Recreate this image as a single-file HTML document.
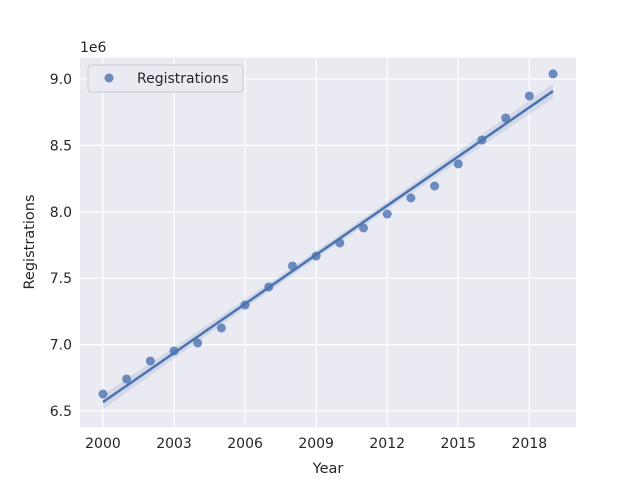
<!DOCTYPE html>
<html><head><meta charset="utf-8"><style>
body{margin:0;background:#fff;}
svg text{font-family:"DejaVu Sans","Liberation Sans",sans-serif;fill:#262626;}
</style></head><body>
<svg id="chart" width="640" height="480" xmlns="http://www.w3.org/2000/svg">
<rect x="0" y="0" width="640" height="480" fill="#fff"/>
<rect x="80" y="57.6" width="496" height="369.6" fill="#eaeaf2"/>
<g id="grid"></g><g id="band"></g><g id="points"></g><g id="line"></g><g id="ticks"></g>
<text x="80" y="52" font-size="14">1e6</text>
<text x="328" y="473" font-size="14.5" text-anchor="middle">Year</text>
<text transform="translate(34,242) rotate(-90)" font-size="14.5" text-anchor="middle">Registrations</text>
<g>
<rect x="88" y="65" width="155" height="27" rx="3" fill="#eaeaf2" stroke="#cccccc" stroke-width="1"/>
<circle cx="109" cy="78" r="4.5" fill="#4c72b0" fill-opacity="0.8"/>
<text x="137" y="83" font-size="14">Registrations</text>
</g>
</svg>
<script>
const years=[2000,2001,2002,2003,2004,2005,2006,2007,2008,2009,2010,2011,2012,2013,2014,2015,2016,2017,2018,2019];
const values=[6.628,6.741,6.876,6.952,7.012,7.125,7.298,7.434,7.592,7.667,7.765,7.878,7.983,8.104,8.194,8.360,8.541,8.706,8.872,9.038];
const xTicks=[2000,2003,2006,2009,2012,2015,2018];
const yTicks=[6.5,7.0,7.5,8.0,8.5,9.0];
const NS="http://www.w3.org/2000/svg";
const X0=80,X1=576,Y0=427.2,Y1=57.6,xmin=1999.03,xmax=2019.97,ymin=6.378,ymax=9.161;
const sx=v=>X0+(v-xmin)/(xmax-xmin)*(X1-X0);
const sy=v=>Y0-(v-ymin)/(ymax-ymin)*(Y0-Y1);
function mk(t,a,p){const e=document.createElementNS(NS,t);for(const k in a)e.setAttribute(k,a[k]);p.appendChild(e);return e;}
const grid=document.getElementById('grid'),ticks=document.getElementById('ticks');
xTicks.forEach(t=>{
 const l=mk('line',{x1:sx(t),x2:sx(t),y1:Y1,y2:Y0,stroke:'#fff','stroke-width':1.2},grid);
 
 
 const tx=mk('text',{x:sx(t),y:448,'font-size':14,'text-anchor':'middle'},ticks);tx.textContent=t;
 
 
});
yTicks.forEach(t=>{
 const l=mk('line',{x1:X0,x2:X1,y1:sy(t),y2:sy(t),stroke:'#fff','stroke-width':1.2},grid);
 
 
 const tx=mk('text',{x:72,y:sy(t)+5,'font-size':14,'text-anchor':'end'},ticks);tx.textContent=t.toFixed(1);
 
 
});
// regression
const n=years.length,mx=years.reduce((a,b)=>a+b)/n,my=values.reduce((a,b)=>a+b)/n;
let sxx=0,sxy=0;years.forEach((x,i)=>{sxx+=(x-mx)**2;sxy+=(x-mx)*(values[i]-my);});
const b=sxy/sxx,a=my-b*mx;
let sse=0;years.forEach((x,i)=>{sse+=(values[i]-a-b*x)**2;});
const s=Math.sqrt(sse/(n-2));
const xs=[];for(let k=0;k<=40;k++)xs.push(years[0]+(years[n-1]-years[0])*k/40);
const up=[],lo=[];
xs.forEach(x=>{const se=2.1*s*Math.sqrt(1/n+(x-mx)**2/sxx);const y=a+b*x;up.push([sx(x),sy(y+se)]);lo.push([sx(x),sy(y-se)]);});
const poly=up.concat(lo.reverse()).map(p=>p.join(',')).join(' ');
const bd=mk('polygon',{points:poly,fill:'#4c72b0','fill-opacity':0.15},document.getElementById('band'));


years.forEach((x,i)=>{
 const c=mk('circle',{cx:sx(x),cy:sy(values[i]),r:4.5,fill:'#4c72b0','fill-opacity':0.8},document.getElementById('points'));
 
 
});
const ln=mk('line',{x1:sx(years[0]),y1:sy(a+b*years[0]),x2:sx(years[n-1]),y2:sy(a+b*years[n-1]),stroke:'#4c72b0','stroke-width':2.5},document.getElementById('line'));


</script>
</body></html>
